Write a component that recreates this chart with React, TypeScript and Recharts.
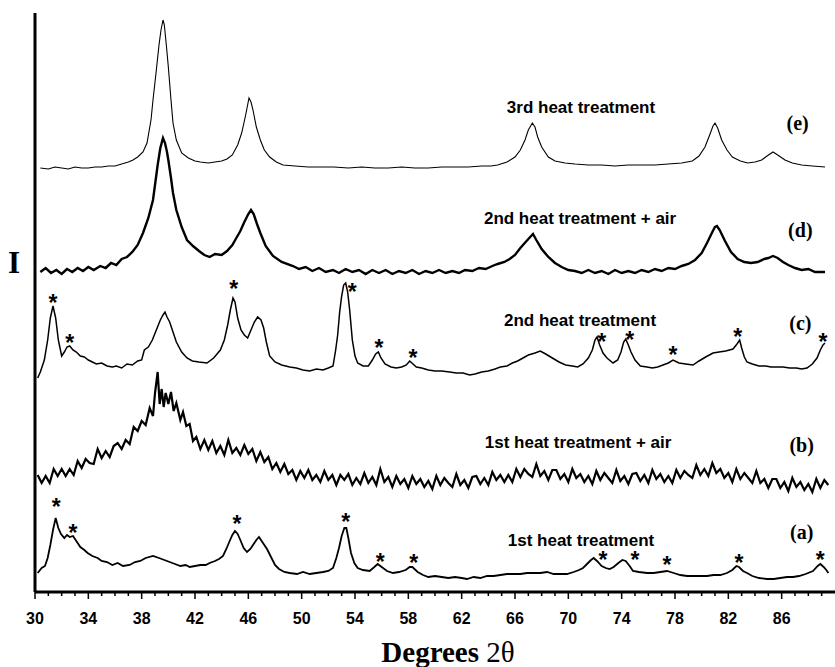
import React from 'react';
import { ComposedChart, Line, Scatter, XAxis, YAxis } from 'recharts';

// XRD patterns, 2θ (deg) vs intensity (arbitrary units, traces stacked)
const traceE: [number, number][] = [
  [30.4, 424], [31, 423], [31.5, 425], [32, 424], [32.5, 423], [33, 425], [33.5, 424], [34, 424],
  [34.5, 425], [35, 425], [35.5, 426], [36, 426], [36.5, 428], [37, 430], [37.35, 432], [37.7, 435],
  [38.1, 440], [38.4, 449], [38.7, 472], [38.85, 492], [39.1, 522], [39.3, 547], [39.45, 562],
  [39.6, 572], [39.7, 567], [39.85, 547], [40.0, 525], [40.2, 492], [40.35, 469], [40.6, 452],
  [41.0, 439], [41.5, 434], [42, 431], [42.4, 430], [43, 429], [43.5, 430], [44, 431], [44.4, 433],
  [44.8, 437], [45.2, 447], [45.5, 459], [45.8, 477], [46.05, 494], [46.2, 490], [46.35, 482],
  [46.6, 465], [46.9, 452], [47.2, 442], [47.6, 435], [48.1, 430], [48.6, 427], [49.5, 426],
  [50.5, 425], [51.5, 425], [52.4, 425], [53.5, 424], [54.5, 425], [55.5, 424], [56.5, 424],
  [57.5, 425], [58.5, 424], [59.5, 424], [60.5, 425], [61.5, 425], [62.5, 425], [63.5, 426],
  [64.2, 426], [64.7, 427], [65.4, 430], [66.0, 435], [66.4, 442], [66.75, 452], [67.0, 462],
  [67.3, 469], [67.5, 465], [67.7, 455], [68.0, 445], [68.5, 435], [69.0, 431], [69.75, 429],
  [70.5, 428], [71.5, 427], [72.5, 427], [73.5, 426], [74.5, 427], [75.5, 427], [76.5, 427],
  [77.5, 428], [78.5, 429], [79.3, 431], [79.8, 436], [80.25, 445], [80.6, 457], [80.85, 466],
  [81.0, 469], [81.2, 464], [81.5, 452], [81.9, 442], [82.3, 435], [82.9, 431], [83.45, 429],
  [84.0, 430], [84.5, 432], [84.9, 436], [85.35, 440], [85.7, 437], [86.25, 432], [86.8, 429],
  [87.5, 427], [88.3, 426], [89.25, 425],
];

const traceD: [number, number][] = [
  [30.4, 320], [30.8, 324], [31.2, 319], [31.6, 322], [32, 318], [32.4, 323], [32.8, 320], [33.2, 324],
  [33.6, 321], [34, 325], [34.4, 322], [34.9, 326], [35.3, 324], [35.7, 329], [36.1, 327], [36.5, 333],
  [36.9, 335], [37.3, 340], [37.7, 347], [38.1, 359], [38.5, 374], [38.85, 392], [39.05, 412],
  [39.2, 427], [39.4, 444], [39.6, 454], [39.75, 449], [39.9, 440], [40.0, 432], [40.2, 414],
  [40.35, 399], [40.6, 382], [41.0, 365], [41.4, 352], [41.85, 346], [42.3, 341], [42.7, 337],
  [43.1, 335], [43.5, 338], [44.0, 337], [44.4, 341], [44.8, 347], [45.1, 354], [45.4, 361],
  [45.7, 370], [46.0, 378], [46.2, 382], [46.4, 378], [46.65, 368], [46.9, 359], [47.3, 346],
  [47.85, 336], [48.5, 330], [49.35, 326], [49.8, 323], [50.3, 325], [50.8, 321], [51.3, 324],
  [51.8, 320], [52.35, 322], [52.8, 319], [53.3, 323], [53.8, 320], [54.3, 322], [54.8, 318],
  [55.3, 322], [55.8, 319], [56.3, 322], [56.8, 318], [57.3, 321], [57.8, 319], [58.3, 322],
  [58.8, 318], [59.3, 321], [59.8, 319], [60.3, 322], [60.8, 319], [61.3, 321], [61.8, 319],
  [62.25, 322], [62.8, 321], [63.3, 324], [63.8, 323], [64.3, 326], [64.7, 328], [65.2, 330],
  [65.6, 333], [66.0, 337], [66.4, 344], [66.8, 350], [67.0, 353], [67.35, 358], [67.6, 352],
  [68.0, 343], [68.5, 335], [69.0, 329], [69.5, 325], [70.0, 322], [70.5, 321], [71.0, 319],
  [71.5, 322], [72.0, 319], [72.5, 321], [73.0, 318], [73.5, 322], [74.0, 319], [74.5, 321],
  [75.0, 319], [75.5, 322], [76.0, 320], [76.5, 323], [77.0, 321], [77.5, 324], [78.0, 323],
  [78.5, 326], [79.0, 328], [79.5, 332], [80.0, 339], [80.4, 349], [80.8, 360], [81.0, 365],
  [81.15, 366], [81.35, 362], [81.75, 351], [82.2, 340], [82.7, 333], [83.2, 330], [83.7, 329],
  [84.2, 330], [84.7, 333], [85.0, 334], [85.35, 336], [85.7, 334], [86.1, 330], [86.5, 327],
  [87.0, 324], [87.5, 322], [88.0, 323], [88.5, 320], [89.25, 320],
];

const traceC: [number, number][] = [
  [30.2, 214], [30.4, 220], [30.7, 232], [30.95, 252], [31.15, 274], [31.35, 286], [31.55, 274],
  [31.75, 252], [32.0, 236], [32.2, 240], [32.4, 245], [32.6, 246], [32.85, 242], [33.1, 240],
  [33.4, 236], [33.7, 235], [34.0, 232], [34.3, 230], [34.6, 228], [35.0, 229], [35.4, 226],
  [35.8, 225], [36.1, 226], [36.5, 224], [36.9, 228], [37.3, 227], [37.7, 231], [38.0, 232],
  [38.2, 242], [38.5, 245], [38.8, 252], [39.1, 262], [39.4, 272], [39.6, 277], [39.75, 280],
  [39.9, 275], [40.1, 270], [40.35, 260], [40.6, 250], [41.0, 240], [41.4, 234], [41.8, 231],
  [42.3, 230], [42.9, 229], [43.4, 234], [43.9, 242], [44.2, 252], [44.45, 267], [44.65, 282],
  [44.85, 294], [45.0, 290], [45.2, 274], [45.45, 262], [45.7, 257], [45.95, 254], [46.2, 262],
  [46.45, 270], [46.7, 275], [46.95, 272], [47.15, 264], [47.35, 250], [47.6, 236], [48.0, 230],
  [48.5, 227], [49.1, 225], [49.6, 224], [50.1, 222], [50.6, 221], [51.1, 223], [51.6, 222],
  [52.0, 224], [52.35, 226], [52.55, 242], [52.7, 257], [52.85, 280], [53.0, 296], [53.15, 307],
  [53.3, 309], [53.45, 300], [53.6, 282], [53.8, 252], [54.0, 236], [54.2, 229], [54.6, 226],
  [55.0, 226], [55.3, 232], [55.55, 238], [55.75, 240], [55.95, 234], [56.25, 228], [56.7, 225],
  [57.1, 224], [57.5, 225], [57.85, 227], [58.1, 231], [58.35, 228], [58.6, 225], [59.0, 224],
  [59.5, 222], [60.0, 221], [60.5, 221], [61.1, 220], [61.6, 219], [62.1, 219], [62.6, 217],
  [63.0, 218], [63.5, 220], [64.0, 221], [64.5, 223], [64.9, 225], [65.4, 226], [65.8, 229],
  [66.2, 231], [66.6, 234], [67.0, 237], [67.5, 239], [67.9, 241], [68.3, 238], [68.8, 234],
  [69.3, 230], [69.8, 227], [70.3, 226], [70.7, 225], [71.1, 228], [71.5, 234], [71.8, 242],
  [72.0, 252], [72.15, 255], [72.35, 247], [72.6, 239], [72.9, 234], [73.35, 229], [73.7, 232],
  [73.95, 240], [74.15, 250], [74.3, 253], [74.5, 247], [74.7, 240], [75.0, 232], [75.4, 226],
  [75.9, 225], [76.3, 224], [76.7, 225], [77.1, 227], [77.5, 229], [77.85, 232], [78.3, 229],
  [78.8, 228], [79.35, 227], [79.8, 231], [80.3, 235], [80.85, 239], [81.3, 240], [81.8, 241],
  [82.35, 243], [82.65, 248], [82.85, 252], [83.0, 244], [83.2, 235], [83.4, 230], [83.8, 228],
  [84.3, 226], [84.8, 226], [85.2, 225], [85.65, 225], [86.1, 225], [86.6, 224], [87.1, 224],
  [87.5, 223], [87.9, 224], [88.3, 228], [88.65, 234], [88.9, 242], [89.1, 247], [89.25, 249],
];

const traceB: [number, number][] = [
  [30.2, 117], [30.5, 109], [30.8, 116], [31.1, 109], [31.4, 123], [31.7, 116], [32.0, 123], [32.3, 116],
  [32.6, 123], [32.9, 117], [33.2, 131], [33.5, 124], [33.8, 133], [34.1, 129], [34.4, 128], [34.7, 143],
  [35.0, 134], [35.3, 141], [35.6, 135], [35.9, 146], [36.2, 149], [36.5, 143], [36.8, 152], [37.1, 148],
  [37.4, 165], [37.7, 161], [38.0, 171], [38.3, 167], [38.6, 184], [38.85, 176], [39.0, 199], [39.2, 220],
  [39.35, 188], [39.5, 203], [39.65, 185], [39.8, 199], [40.0, 188], [40.2, 200], [40.4, 181], [40.6, 189],
  [40.9, 172], [41.1, 180], [41.35, 166], [41.6, 168], [41.85, 151], [42.1, 155], [42.4, 143], [42.7, 152],
  [43.0, 142], [43.3, 151], [43.6, 139], [43.9, 146], [44.2, 137], [44.5, 152], [44.8, 139], [45.1, 144],
  [45.4, 137], [45.7, 147], [46.0, 138], [46.3, 143], [46.6, 131], [46.9, 140], [47.2, 130], [47.5, 135],
  [47.8, 123], [48.1, 129], [48.4, 120], [48.7, 128], [49.0, 118], [49.3, 122], [49.6, 112], [49.9, 121],
  [50.2, 114], [50.5, 122], [50.8, 112], [51.1, 117], [51.4, 110], [51.7, 121], [52.0, 112], [52.3, 117],
  [52.6, 107], [52.9, 117], [53.2, 112], [53.5, 118], [53.8, 107], [54.1, 114], [54.4, 108], [54.7, 119],
  [55.0, 109], [55.3, 115], [55.6, 107], [55.9, 123], [56.2, 110], [56.5, 115], [56.8, 105], [57.1, 116],
  [57.4, 108], [57.7, 113], [58.0, 104], [58.3, 116], [58.6, 108], [58.9, 113], [59.2, 105], [59.5, 111],
  [59.8, 103], [60.1, 116], [60.4, 107], [60.7, 114], [61.0, 109], [61.3, 105], [61.6, 118], [61.9, 107],
  [62.2, 112], [62.5, 104], [62.8, 115], [63.1, 116], [63.4, 108], [63.7, 114], [64.0, 107], [64.3, 120],
  [64.6, 112], [64.9, 117], [65.2, 110], [65.5, 117], [65.8, 110], [66.1, 123], [66.4, 115], [66.7, 123],
  [67.0, 118], [67.3, 115], [67.6, 128], [67.9, 116], [68.2, 121], [68.5, 112], [68.8, 122], [69.1, 122],
  [69.4, 113], [69.7, 118], [70.0, 110], [70.3, 123], [70.6, 114], [70.9, 118], [71.2, 110], [71.5, 116],
  [71.8, 108], [72.1, 121], [72.4, 112], [72.7, 119], [73.0, 114], [73.3, 109], [73.6, 122], [73.9, 111],
  [74.2, 116], [74.5, 108], [74.8, 118], [75.1, 119], [75.4, 111], [75.7, 117], [76.0, 109], [76.3, 122],
  [76.6, 113], [76.9, 118], [77.2, 110], [77.5, 116], [77.8, 109], [78.1, 122], [78.4, 114], [78.7, 121],
  [79.0, 117], [79.3, 114], [79.6, 127], [79.9, 117], [80.2, 123], [80.5, 116], [80.8, 129], [81.1, 119],
  [81.4, 123], [81.7, 114], [82.0, 119], [82.3, 110], [82.6, 123], [82.9, 113], [83.2, 119], [83.5, 114],
  [83.8, 109], [84.1, 121], [84.4, 109], [84.7, 113], [85.0, 104], [85.3, 113], [85.6, 113], [85.9, 104],
  [86.2, 110], [86.5, 101], [86.8, 114], [87.1, 105], [87.4, 110], [87.7, 102], [88.0, 108], [88.3, 100],
  [88.6, 113], [88.9, 104], [89.2, 112], [89.5, 107],
];

const traceA: [number, number][] = [
  [30.2, 19], [30.5, 24], [30.75, 26], [30.95, 34], [31.15, 47], [31.35, 62], [31.55, 74], [31.75, 64],
  [31.95, 58], [32.2, 54], [32.4, 57], [32.6, 55], [32.85, 56], [33.1, 51], [33.4, 45], [33.7, 42],
  [33.95, 39], [34.3, 36], [34.7, 34], [35.0, 31], [35.4, 30], [35.8, 27], [36.2, 29], [36.6, 26],
  [37.1, 27], [37.5, 30], [37.9, 31], [38.3, 34], [38.85, 36], [39.3, 34], [39.7, 32], [40.1, 30],
  [40.5, 28], [40.9, 26], [41.3, 27], [41.6, 25], [42.0, 26], [42.4, 27], [42.8, 27], [43.1, 29],
  [43.5, 31], [43.8, 33], [44.1, 36], [44.35, 43], [44.6, 51], [44.8, 57], [45.0, 61], [45.2, 58],
  [45.4, 52], [45.65, 44], [45.9, 40], [46.15, 43], [46.4, 48], [46.6, 52], [46.8, 55], [47.0, 51],
  [47.2, 47], [47.4, 43], [47.7, 35], [48.0, 27], [48.3, 23], [48.7, 20], [49.1, 19], [49.65, 18],
  [50.1, 20], [50.6, 18], [51.1, 19], [51.6, 20], [52.0, 21], [52.35, 24], [52.6, 34], [52.8, 44],
  [53.0, 56], [53.2, 64], [53.35, 64], [53.5, 54], [53.7, 39], [53.95, 29], [54.2, 24], [54.6, 22],
  [55.1, 21], [55.45, 25], [55.7, 28], [56.0, 25], [56.4, 21], [56.85, 19], [57.3, 20], [57.8, 22],
  [58.1, 25], [58.3, 25], [58.7, 20], [59.1, 17], [59.5, 15], [60.0, 16], [60.5, 15], [61.0, 14],
  [61.5, 15], [62.0, 14], [62.4, 13], [62.9, 15], [63.4, 14], [63.9, 16], [64.4, 16], [64.9, 17],
  [65.4, 18], [65.9, 18], [66.4, 18], [66.9, 19], [67.4, 19], [67.9, 19], [68.4, 20], [68.9, 18],
  [69.4, 18], [69.9, 18], [70.4, 20], [70.8, 22], [71.1, 24], [71.4, 28], [71.7, 32], [71.9, 34],
  [72.15, 31], [72.5, 26], [72.8, 24], [73.1, 23], [73.4, 25], [73.75, 29], [74.05, 32], [74.3, 31],
  [74.6, 26], [74.85, 21], [75.3, 20], [75.9, 19], [76.4, 19], [76.9, 20], [77.4, 21], [77.9, 19],
  [78.4, 17], [78.9, 16], [79.35, 16], [79.9, 16], [80.4, 16], [80.9, 17], [81.4, 17], [81.9, 19],
  [82.3, 22], [82.6, 26], [82.8, 25], [83.1, 21], [83.4, 19], [83.8, 16], [84.3, 14], [84.9, 13],
  [85.4, 13], [85.9, 14], [86.4, 15], [86.85, 15], [87.3, 16], [87.8, 18], [88.35, 21], [88.7, 26],
  [88.9, 28], [89.15, 25], [89.35, 22], [89.5, 19],
];

// asterisks marking the impurity reflections
const starsC: [number, number][] = [
  [31.35, 294], [32.6, 254], [44.9, 308], [53.8, 305], [55.8, 249], [58.35, 239],
  [72.5, 255], [74.6, 257], [77.85, 242], [82.7, 260], [89.1, 255],
];
const starsA: [number, number][] = [
  [31.6, 90], [32.85, 64], [45.15, 73], [53.3, 75], [55.9, 35], [58.4, 34],
  [72.6, 37], [75.0, 37], [77.4, 32], [82.8, 34], [88.9, 37],
];

const traceNames = [
  '3rd heat treatment',
  '2nd heat treatment + air',
  '2nd heat treatment',
  '1st heat treatment + air',
  '1st heat treatment',
];
const traceTags = ['(e)', '(d)', '(c)', '(b)', '(a)'];
const nameX = [70.95, 70.88, 70.88, 70.73, 70.95];
const nameY = [485, 374, 272, 150, 52];
const tagX = [87.2, 87.4, 87.4, 87.5, 87.5];
const tagY = [469, 362, 269, 147, 60];

const majorTicks = [30, 34, 38, 42, 46, 50, 54, 58, 62, 66, 70, 74, 78, 82, 86];
const allTicks = [
  30, 31, 32, 33, 34, 35, 36, 37, 38, 39, 40, 41, 42, 43, 44, 45, 46, 47, 48, 49,
  50, 51, 52, 53, 54, 55, 56, 57, 58, 59, 60, 61, 62, 63, 64, 65, 66, 67, 68, 69,
  70, 71, 72, 73, 74, 75, 76, 77, 78, 79, 80, 81, 82, 83, 84, 85, 86, 87, 88, 89,
];

const SANS = '"Liberation Sans", Arial, sans-serif';
const SERIF = '"Liberation Serif", "Times New Roman", serif';

const pts = (arr: [number, number][]) => arr.map(([x, y]) => ({ x, y }));

const names = traceNames.map((text, i) => ({ x: nameX[i], y: nameY[i], text }));
const tags = traceTags.map((text, i) => ({ x: tagX[i], y: tagY[i], text }));
const stars = [...pts(starsC), ...pts(starsA)];

const XTick = (props: any) => {
  const { x, y, payload } = props;
  const major = majorTicks.includes(payload.value);
  return (
    <g>
      <line x1={x} x2={x} y1={y} y2={y + (major ? 7 : 4)} stroke="#000" strokeWidth={1.5} />
      {major && (
        <text x={x} y={y + 32} textAnchor="middle" fontFamily={SANS} fontWeight="bold" fontSize={16} fill="#000">
          {payload.value}
        </text>
      )}
    </g>
  );
};

const Star = (props: any) => (
  <text x={props.cx} y={props.cy + 13} textAnchor="middle" fontFamily={SANS} fontWeight="bold" fontSize={23} fill="#000">
    *
  </text>
);

const NameText = (props: any) => (
  <text x={props.cx} y={props.cy} textAnchor="middle" dominantBaseline="central" fontFamily={SANS} fontWeight="bold" fontSize={17} fill="#000">
    {props.payload.text}
  </text>
);

const TagText = (props: any) => (
  <text x={props.cx} y={props.cy} textAnchor="middle" dominantBaseline="central" fontFamily={SERIF} fontWeight="bold" fontSize={20} fill="#000">
    {props.payload.text}
  </text>
);

export default function App() {
  return (
    <div style={{ position: 'absolute', left: 0, top: 0, width: 835, height: 667, background: '#fff' }}>
      <ComposedChart width={835} height={667} margin={{ top: 13, right: 0, bottom: 0, left: 0 }}>
        <XAxis
          type="number"
          dataKey="x"
          domain={[30, 90]}
          ticks={allTicks}
          interval={0}
          tick={<XTick />}
          tickLine={false}
          tickSize={0}
          tickMargin={0}
          height={75}
          axisLine={{ stroke: '#000', strokeWidth: 3 }}
          allowDataOverflow
        />
        <YAxis
          type="number"
          dataKey="y"
          domain={[0, 579]}
          width={35}
          tick={false}
          tickLine={false}
          axisLine={{ stroke: '#000', strokeWidth: 3 }}
          allowDataOverflow
        />
        <Line data={pts(traceE)} dataKey="y" type="linear" stroke="#000" strokeWidth={1.1} dot={false} isAnimationActive={false} />
        <Line data={pts(traceD)} dataKey="y" type="linear" stroke="#000" strokeWidth={2.4} dot={false} isAnimationActive={false} />
        <Line data={pts(traceC)} dataKey="y" type="linear" stroke="#000" strokeWidth={1.5} dot={false} isAnimationActive={false} />
        <Line data={pts(traceB)} dataKey="y" type="linear" stroke="#000" strokeWidth={2.2} dot={false} isAnimationActive={false} />
        <Line data={pts(traceA)} dataKey="y" type="linear" stroke="#000" strokeWidth={1.8} dot={false} isAnimationActive={false} />
        <Scatter data={stars} dataKey="y" shape={<Star />} isAnimationActive={false} />
        <Scatter data={names} dataKey="y" shape={<NameText />} isAnimationActive={false} />
        <Scatter data={tags} dataKey="y" shape={<TagText />} isAnimationActive={false} />
      </ComposedChart>
      <svg width={835} height={667} style={{ position: 'absolute', left: 0, top: 0, pointerEvents: 'none' }}>
        <text x={14} y={273} textAnchor="middle" fontFamily={SERIF} fontWeight="bold" fontSize={31} fill="#000">
          I
        </text>
        <text x={448} y={662} textAnchor="middle" fontFamily={SERIF} fontSize={29} fill="#000">
          <tspan fontWeight="bold">Degrees </tspan>
          <tspan>2θ</tspan>
        </text>
      </svg>
    </div>
  );
}
